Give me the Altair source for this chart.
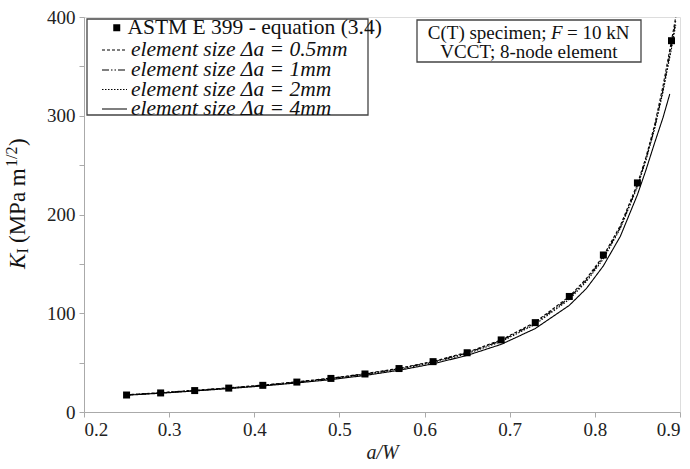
import altair as alt
import pandas as pd

# ---- data ----
x_astm = [0.25, 0.29, 0.33, 0.37, 0.41, 0.45, 0.49, 0.53, 0.57, 0.61, 0.65, 0.69, 0.73, 0.77, 0.81, 0.85, 0.89]
k_astm = [17.2, 19.3, 21.7, 24.2, 27.0, 30.3, 34.0, 38.5, 44.0, 51.0, 60.0, 73.0, 90.5, 117.0, 159.0, 232.0, 376.0]

x_fem = [0.25, 0.29, 0.33, 0.37, 0.41, 0.45, 0.49, 0.53, 0.57, 0.61, 0.65, 0.69, 0.73, 0.77, 0.79, 0.81, 0.83, 0.85, 0.86, 0.87, 0.88, 0.89, 0.895]
k_05 = [17.5, 19.6, 22.0, 24.5, 27.3, 30.6, 34.3, 38.8, 44.3, 51.3, 60.5, 73.0, 91.0, 117.0, 135.0, 158.0, 189.0, 231.0, 258.0, 290.0, 330.0, 376.0, 400.0]
k_1 = [17.3, 19.4, 21.8, 24.3, 27.0, 30.3, 34.0, 38.4, 43.8, 50.8, 59.8, 72.2, 90.0, 115.5, 133.5, 156.5, 187.0, 229.0, 256.0, 287.0, 326.0, 371.0, 396.0]
k_2 = [17.2, 19.3, 21.6, 24.1, 26.8, 30.0, 33.6, 38.0, 43.3, 50.2, 59.0, 71.2, 88.8, 114.0, 132.0, 155.0, 186.0, 228.0, 255.0, 286.0, 324.0, 368.0, 392.0]
x_4 = [0.25, 0.29, 0.33, 0.37, 0.41, 0.45, 0.49, 0.53, 0.57, 0.61, 0.65, 0.69, 0.73, 0.77, 0.79, 0.81, 0.83, 0.85, 0.86, 0.87, 0.88, 0.888]
k_4 = [17.0, 19.0, 21.3, 23.7, 26.4, 29.4, 32.8, 37.0, 42.2, 48.8, 57.3, 68.5, 84.5, 108.0, 125.0, 148.0, 178.0, 220.0, 245.0, 272.0, 298.0, 322.0]

astm_name = "ASTM E 399 - equation (3.4)"
fem_names = [
    "element size Δa = 0.5mm",
    "element size Δa = 1mm",
    "element size Δa = 2mm",
    "element size Δa = 4mm",
]

x_ticks = [0.2, 0.3, 0.4, 0.5, 0.6, 0.7, 0.8, 0.9]
y_ticks = [0, 50, 100, 150, 200, 250, 300, 350, 400]

FONT = "Liberation Serif"
LFS = 21.5
dash_list = [[3, 2], [7, 2, 1.5, 2, 1.5, 2], [1.5, 1.5], [1, 0]]
legend_rows_y = [19.5, 39.5, 59, 78.5]   # legend row offsets inside the framed legend

xscale = alt.Scale(domain=[0.2, 0.9], nice=False, zero=False)
yscale = alt.Scale(domain=[0, 400], nice=False)

xaxis = alt.Axis(
    title="a/W", values=x_ticks, format=".1f",
    labelFont=FONT, labelFontSize=19, labelColor="#222", labelPadding=3,
    titleFont=FONT, titleFontSize=20, titleFontStyle="italic", titleFontWeight="normal",
    titleColor="#222", titlePadding=3,
    domainColor="#aaa", tickColor="#aaa", tickSize=5, grid=False,
)
yaxis = alt.Axis(
    title=None, values=y_ticks,
    labelExpr="datum.value % 100 == 0 ? datum.label : ''",
    labelFont=FONT, labelFontSize=19, labelColor="#222", labelPadding=4,
    domainColor="#aaa", tickColor="#aaa", tickSize=5, grid=False,
)

# legend frame (drawn behind the legends)
legend_box = alt.Chart(pd.DataFrame({"d": [0]})).mark_rect(fill="white", stroke="#444", strokeWidth=1.3).encode(
    x=alt.value(3), x2=alt.value(284), y=alt.value(2), y2=alt.value(98)
)

fem_series = [(x_fem, k_05), (x_fem, k_1), (x_fem, k_2), (x_4, k_4)]
line_layers = []
for i, ((xs, ks), nm) in enumerate(zip(fem_series, fem_names)):
    df = pd.DataFrame({"aW": xs, "K": ks, "series": [nm] * len(xs)})
    leg = alt.Legend(
        title=None, orient="none", legendX=17, legendY=legend_rows_y[i],
        padding=0, symbolOffset=0, labelOffset=3,
        symbolType="stroke", symbolSize=625, symbolStrokeWidth=1.2,
        symbolStrokeColor="black",
        labelFont=FONT, labelFontSize=LFS, labelFontStyle="italic",
        labelColor="#111", labelLimit=400,
    )
    enc = dict(
        x=alt.X("aW:Q", scale=xscale, axis=xaxis),
        y=alt.Y("K:Q", scale=yscale, axis=yaxis),
        strokeDash=alt.StrokeDash("series:N", scale=alt.Scale(domain=[nm], range=[dash_list[i]]), legend=leg),
    )
    line_layers.append(alt.Chart(df).mark_line(color="black", strokeWidth=1.1).encode(**enc))

astm_df = pd.DataFrame({"aW": x_astm, "K": k_astm, "series": [astm_name] * len(x_astm)})
leg_astm = alt.Legend(
    title=None, orient="none", legendX=22, legendY=0,
    padding=0, symbolOffset=0, labelOffset=0,
    symbolType="square", symbolSize=49,
    symbolFillColor="black", symbolStrokeColor="black", symbolStrokeWidth=0.5,
    labelFont=FONT, labelFontSize=LFS, labelColor="#111", labelLimit=400,
)
points = alt.Chart(astm_df).mark_point(filled=True, color="black", opacity=1, size=49).encode(
    x=alt.X("aW:Q", scale=xscale, axis=xaxis),
    y=alt.Y("K:Q", scale=yscale, axis=yaxis),
    shape=alt.Shape("series:N", scale=alt.Scale(domain=[astm_name], range=["square"]), legend=leg_astm),
)

# annotation box (top right)
box = alt.Chart(pd.DataFrame({"d": [0]})).mark_rect(fill="white", stroke="#444", strokeWidth=1.3).encode(
    x=alt.value(333), x2=alt.value(557), y=alt.value(3), y2=alt.value(45)
)
ann_df = pd.DataFrame({"d": [0]})
def txt(s, x, y, align="left", style="normal", size=19, angle=0, baseline="middle"):
    kw = dict(font=FONT, fontSize=size, fontStyle=style, align=align, baseline=baseline, color="#111")
    if angle:
        kw["angle"] = angle
    return alt.Chart(ann_df).mark_text(**kw).encode(x=alt.value(x), y=alt.value(y), text=alt.value(s))

ann = [
    txt("C(T) specimen;", 462.5, 16, align="right"),
    txt("F", 467, 16, style="italic"),
    txt("= 10 kN", 483, 16),
    txt("VCCT; 8-node element", 445, 35, align="center"),
]

# y-axis title with subscript / superscript, rotated
ytitle = [
    txt("K", -66, 252, style="italic", size=23, angle=270),
    txt("I", -61, 236.5, size=16, angle=270),
    txt("(MPa m", -66, 226, size=23, angle=270),
    txt("1/2", -72, 150, size=16, angle=270),
    txt(")", -66, 129, size=23, angle=270),
]

chart = alt.layer(legend_box, *line_layers, points, box, *ann, *ytitle).resolve_scale(
    strokeDash="independent"
).resolve_legend(
    strokeDash="independent"
).properties(
    width=596, height=395,
    autosize=alt.AutoSizeParams(type="none"),
    padding={"left": 84, "top": 17, "right": 10, "bottom": 57},
).configure_view(stroke="#ccc", strokeWidth=1).configure(background="white")

chart.save("out.html", embed_options={"renderer": "svg", "actions": False})
